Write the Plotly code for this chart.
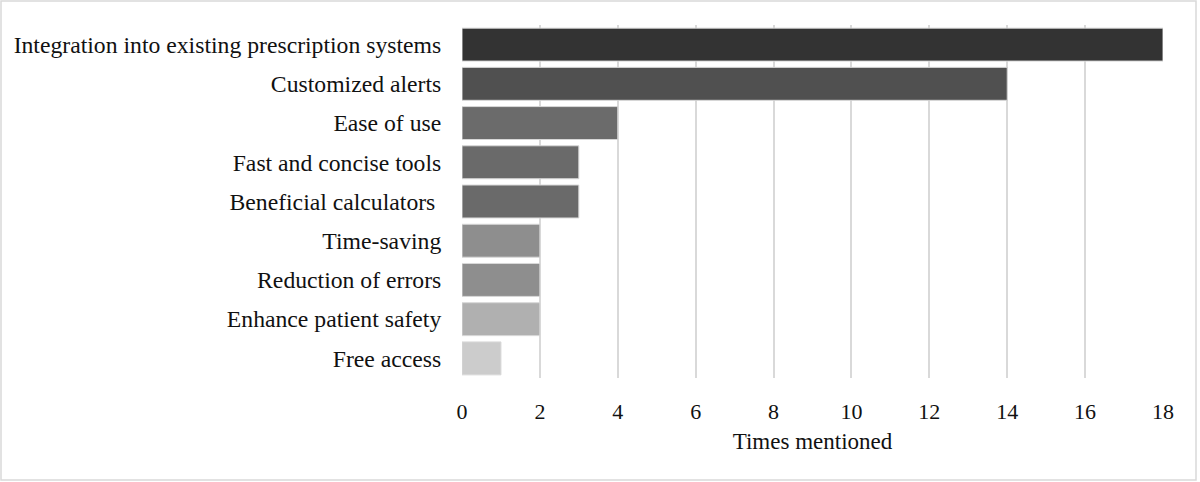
import plotly.graph_objects as go

categories = [
    "Integration into existing prescription systems",
    "Customized alerts",
    "Ease of use",
    "Fast and concise tools",
    "Beneficial calculators ",
    "Time-saving",
    "Reduction of errors",
    "Enhance patient safety",
    "Free access",
]
times_mentioned = [18, 14, 4, 3, 3, 2, 2, 2, 1]
bar_colors = ["#333333", "#505050", "#6b6b6b", "#6a6a6a", "#6a6a6a",
              "#8e8e8e", "#8e8e8e", "#b0b0b0", "#cccccc"]
x_ticks = [0, 2, 4, 6, 8, 10, 12, 14, 16, 18]

W, H = 1200, 482
L, R, T, B = 462, 37, 25, 104
pw, ph = W - L - R, H - T - B

fig = go.Figure(
    go.Bar(
        x=times_mentioned,
        y=categories,
        orientation="h",
        marker={"color": bar_colors, "line": {"color": "#d8d8d8", "width": 1}},
        hoverinfo="x+y",
    )
)

fig.update_layout(
    width=W,
    height=H,
    margin={"l": L, "r": R, "t": T, "b": B},
    paper_bgcolor="white",
    plot_bgcolor="white",
    bargap=0.16,
    showlegend=False,
    font={"family": "Liberation Serif", "size": 23.7, "color": "#111111"},
    xaxis={
        "range": [0, 18],
        "tickvals": x_ticks,
        "showgrid": True,
        "gridcolor": "#d9d9d9",
        "gridwidth": 2,
        "zeroline": False,
        "ticks": "outside",
        "ticklen": 14,
        "tickcolor": "white",
        "tickfont": {"size": 22},
        "title": {"text": "Times mentioned", "standoff": 9, "font": {"size": 23}},
    },
    yaxis={
        "autorange": "reversed",
        "ticks": "outside",
        "ticklen": 15,
        "tickcolor": "white",
        "showgrid": False,
    },
    shapes=[
        {
            "type": "rect",
            "xref": "paper",
            "yref": "paper",
            "x0": (1 - L) / pw,
            "x1": (1196 - L) / pw,
            "y0": (H - B - 480) / ph,
            "y1": (H - B - 1) / ph,
            "line": {"color": "#d9d9d9", "width": 1.5},
            "layer": "below",
        }
    ],
)

fig.write_html(
    "out.html",
    config={"displayModeBar": False},
    post_script="document.body.style.margin='0';",
)
